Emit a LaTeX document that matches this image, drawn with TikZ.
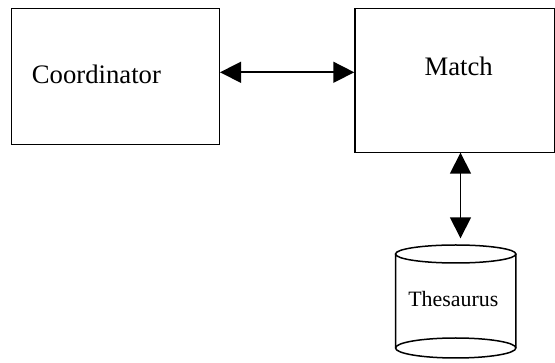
\documentclass[tikz,border=0pt]{standalone}
\usepackage{fontspec}
\setmainfont{Liberation Serif}
\usetikzlibrary{arrows.meta}
\begin{document}
\begin{tikzpicture}[x=1pt,y=-1pt,
  box/.style={draw,line width=1.5pt,inner sep=0pt},
  conn/.style={line width=1.6pt,{Triangle[length=21pt,width=21pt]}-{Triangle[length=21pt,width=21pt]}},
  lbl/.style={font=\fontsize{26.7}{30}\selectfont,inner sep=0pt},
  cyl/.style={line width=1.5pt}]
\useasboundingbox (0,0) rectangle (555,363);
\node[box,minimum width=207.6pt,minimum height=135.8pt] (coord) at (115.5,76.4) {};
\node[box,minimum width=199.5pt,minimum height=144.2pt] (match) at (454.75,80.6) {};
\node[lbl,anchor=base] (coordt) at (96.4,83.3) {Coordinator};
\node[lbl,anchor=base] (matcht) at (458.7,76) {Match};
% cylinder
\node[inner sep=0pt,minimum width=120pt,minimum height=112pt] (thes) at (455.7,302) {};
\draw[cyl] (395.5,254) -- (395.5,348) arc[start angle=180,end angle=360,x radius=60.2,y radius=-10] -- (515.9,254);
\draw[cyl] (455.7,254) ellipse[x radius=60.2,y radius=9];
\draw[cyl] (395.5,348) arc[start angle=180,end angle=0,x radius=60.2,y radius=-10];
\node[inner sep=0pt,anchor=base,font=\fontsize{21.9}{25}\selectfont] (thest) at (453.3,306.7) {Thesaurus};
\coordinate (mb) at (460.5,152.7);
\coordinate (tt) at (460.5,238.3);
\draw[conn] (coord.east |- 0,72.3) -- (match.west |- 0,72.3);
\draw[conn] (mb) -- (tt);
\end{tikzpicture}
\end{document}
